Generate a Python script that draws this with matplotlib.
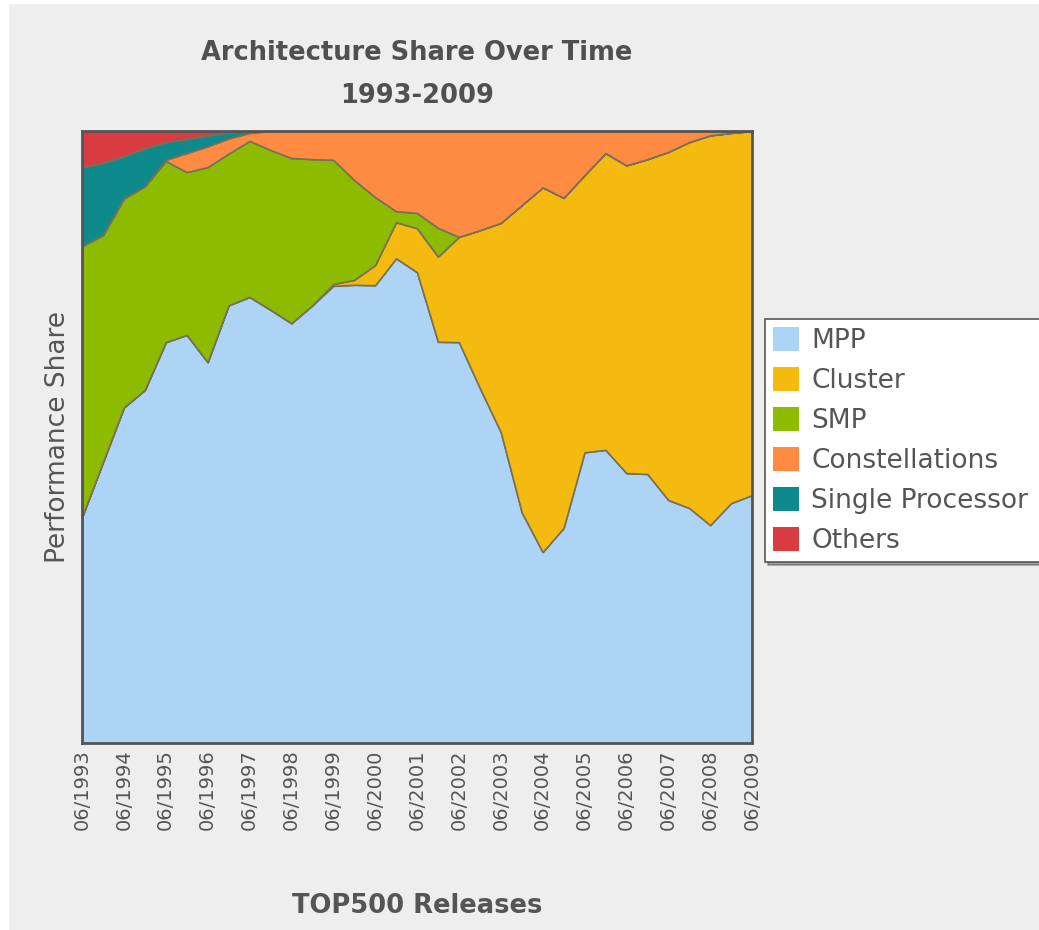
import numpy as np
import matplotlib
matplotlib.use('Agg')
import matplotlib.pyplot as plt

# TOP500 release dates (June / November lists)
releases = []
for yr in range(1993, 2010):
    releases.append(f'06/{yr}')
    if yr < 2009:
        releases.append(f'11/{yr}')

# performance share in percent
mpp = [36.9, 45.9, 54.9, 57.7, 65.5, 66.7, 62.3, 71.6, 72.9, 70.8, 68.6, 71.6,
       74.7, 74.8, 74.8, 79.2, 77.0, 65.5, 65.5, 58.0, 50.8, 37.7, 31.2, 35.1,
       47.5, 47.9, 44.1, 44.0, 39.7, 38.4, 35.6, 39.2, 40.5]
cluster = [0, 0, 0, 0, 0, 0, 0, 0, 0, 0, 0, 0,
           0.3, 0.8, 3.3, 5.9, 7.2, 13.9, 17.2, 25.8, 34.2, 50.2, 59.6, 53.9,
           45.3, 48.5, 50.3, 51.5, 56.9, 59.8, 63.7, 60.5, 59.5]
smp = [44.3, 37.1, 34.2, 33.3, 29.6, 26.6, 31.9, 24.8, 25.5, 26.1, 27.0, 23.9,
       20.3, 16.3, 11.1, 1.8, 2.5, 4.7, 0, 0, 0, 0, 0, 0,
       0, 0, 0, 0, 0, 0, 0, 0, 0]
constellations = [0, 0, 0, 0, 0.2, 3.1, 3.4, 2.5, 1.3, 3.1, 4.4, 4.6,
                  4.7, 8.0, 10.8, 13.1, 13.4, 15.8, 17.3, 16.2, 15.0, 12.1, 9.2, 10.9,
                  7.2, 3.6, 5.6, 4.6, 3.4, 1.8, 0.7, 0.3, 0]
single_proc = [12.9, 11.8, 6.9, 6.2, 2.9, 2.3, 1.8, 1.0, 0.3, 0, 0, 0,
               0, 0, 0, 0, 0, 0, 0, 0, 0, 0, 0, 0,
               0, 0, 0, 0, 0, 0, 0, 0, 0]
others = [5.9, 5.2, 4.1, 2.8, 1.8, 1.3, 0.7, 0.2, 0, 0, 0, 0,
          0, 0, 0, 0, 0, 0, 0, 0, 0, 0, 0, 0,
          0, 0, 0, 0, 0, 0, 0, 0, 0]

labels = ['MPP', 'Cluster', 'SMP', 'Constellations', 'Single Processor', 'Others']
colors = ['#aed4f5', '#f5ba10', '#8cbb00', '#ff8a42', '#0e8a8c', '#d93c40']

text_col = '#555555'
bg = '#eeeeee'

fig = plt.figure(figsize=(10.39, 9.30), dpi=100, facecolor=bg)
# thin white margin on the left and top like the screenshot
fig.patches.append(plt.Rectangle((0, 0), 8 / 1039, 1, transform=fig.transFigure,
                                 color='white', zorder=-5))
fig.patches.append(plt.Rectangle((0, 1 - 3 / 930), 1, 3 / 930, transform=fig.transFigure,
                                 color='white', zorder=-5))

ax = fig.add_axes([0.0789, 0.2011, 0.6449, 0.658])

x = np.arange(len(releases))
series = [mpp, cluster, smp, constellations, single_proc, others]
# normalise each release to 100 %
tot = np.sum(series, axis=0)
series = [np.array(s) / tot * 100 for s in series]

ax.stackplot(x, *series, labels=labels, colors=colors,
             edgecolor='#76705c', linewidth=1.2)

ax.set_xlim(0, len(releases) - 1)
ax.set_ylim(0, 100)
ax.set_yticks([])
ax.set_xticks(x[::2])
ax.set_xticklabels(releases[::2], rotation=90, fontsize=14, color=text_col)
ax.tick_params(axis='x', length=0, pad=4.5)

for sp in ax.spines.values():
    sp.set_color('#555555')
    sp.set_linewidth(2)

ax.set_ylabel('Performance Share', fontsize=19, color=text_col, labelpad=8)
ax.set_xlabel('TOP500 Releases', fontsize=18.5, fontweight='bold', color=text_col, labelpad=45)

fig.text(0.4014, 1 - 53 / 930, 'Architecture Share Over Time', ha='center', va='center',
         fontsize=18.5, fontweight='bold', color='#505050')
fig.text(0.4014, 1 - 96 / 930, '1993-2009', ha='center', va='center',
         fontsize=18.5, fontweight='bold', color='#505050')

# legend box runs off the right edge of the picture, as in the screenshot
leg = ax.legend(loc='upper left', bbox_to_anchor=(765 / 1039, 1 - 319 / 930, 290 / 1039, 0),
                bbox_transform=fig.transFigure, mode='expand', fontsize=19, frameon=True,
                fancybox=False, shadow=True, handlelength=1.0, handleheight=1.0,
                handletextpad=0.45, labelspacing=0.5, borderpad=0.3, borderaxespad=0)
leg.get_frame().set_edgecolor('#555555')
leg.get_frame().set_linewidth(1.2)
for t in leg.get_texts():
    t.set_color(text_col)
for h in leg.legend_handles:
    h.set_edgecolor('none')

plt.savefig('out.png', dpi=100, facecolor=bg)
